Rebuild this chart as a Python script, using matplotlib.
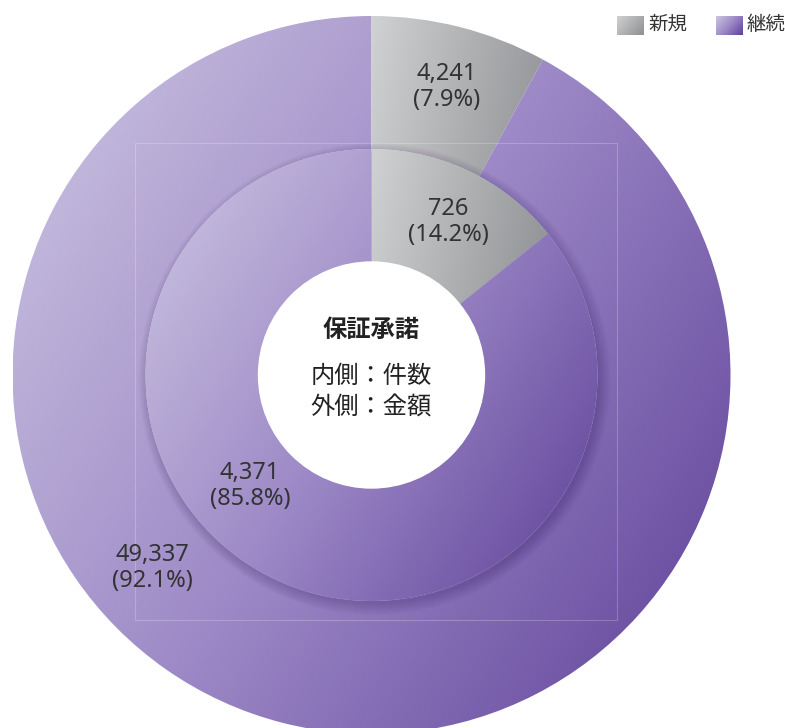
import numpy as np
import matplotlib.pyplot as plt
from matplotlib.colors import LinearSegmentedColormap
from matplotlib.patches import Circle, Rectangle

plt.rcParams['font.family'] = ['Noto Sans', 'Noto Sans CJK JP']

categories = ['新規', '継続']
inner_counts = [726, 4371]        # 件数
outer_amounts = [4241, 49337]     # 金額
inner_labels = ['726\n(14.2%)', '4,371\n(85.8%)']
outer_labels = ['4,241\n(7.9%)', '49,337\n(92.1%)']

W, H = 785, 728
cx, cy = 371.5, H - 375
r_out, r_in, r_hole = 359, 226, 113

purple = LinearSegmentedColormap.from_list('p', ['#cdc6e2', '#9c88c6', '#5e4098'])
gray = LinearSegmentedColormap.from_list('g', ['#d0d1d2', '#8e8f92'])

fig = plt.figure(figsize=(W / 100, H / 100), dpi=100)
ax = fig.add_axes([0, 0, 1, 1])


def grad_fill(patch, cmap, extent, diag=True):
    n = 256
    xx, yy = np.meshgrid(np.linspace(0, 1, n), np.linspace(0, 1, n))
    t = 0.62 * xx + 0.38 * yy if diag else xx * 0.85 + yy * 0.15
    im = ax.imshow(t, cmap=cmap, extent=extent, origin='upper',
                   interpolation='bilinear', zorder=patch.get_zorder(), vmin=0, vmax=1)
    im.set_clip_path(patch)


# outer ring: amounts
w_out, _ = ax.pie(outer_amounts, radius=r_out, center=(cx, cy), startangle=90,
                  counterclock=False, wedgeprops=dict(width=r_out - r_in, linewidth=0))
for w, cm in zip(w_out, [gray, purple]):
    w.set_facecolor('none')
    w.set_zorder(1)
    if cm is purple:
        grad_fill(w, cm, [cx - r_out, cx + r_out, cy - r_out, cy + r_out])
    else:
        grad_fill(w, cm, [cx, cx + r_out * 0.5, cy + r_in * 0.8, cy + r_out], diag=False)

# faint frame line
ax.add_patch(Rectangle((135, H - 620), 617 - 135, 620 - 143, fill=False,
                       edgecolor='white', alpha=0.22, linewidth=0.8, zorder=2))

# soft shadow under the inner ring
for k in range(12):
    ax.add_patch(Circle((cx + 3, cy - 4), r_in + 10 - k, color='#3a2466',
                        alpha=0.025, linewidth=0, zorder=3))

# inner ring: counts
w_in, _ = ax.pie(inner_counts, radius=r_in, center=(cx, cy), startangle=90,
                 counterclock=False, wedgeprops=dict(width=r_in - r_hole, linewidth=0))
for w, cm in zip(w_in, [gray, purple]):
    w.set_facecolor('none')
    w.set_zorder(4)
    if cm is purple:
        grad_fill(w, cm, [cx - r_in, cx + r_in, cy - r_in, cy + r_in])
    else:
        grad_fill(w, cm, [cx, cx + r_in * 0.8, cy + r_hole * 0.6, cy + r_in], diag=False)

ax.add_patch(Circle((cx, cy), r_hole, color='white', zorder=5))

# value labels
txt = dict(ha='center', va='center', fontsize=17, color='#333333',
           linespacing=1.1, zorder=6)
ax.text(447, H - 87, outer_labels[0], **txt)
ax.text(152, H - 568, outer_labels[1], **txt)
ax.text(448, H - 222, inner_labels[0], **txt)
ax.text(250, H - 486, inner_labels[1], **txt)

# centre text
ax.text(cx, H - 331, '保証承諾', ha='center', va='center', fontsize=17.5,
        fontweight='bold', color='#222222', zorder=6)
ax.text(cx, H - 377, '内側：件数', ha='center', va='center', fontsize=17.5,
        color='#222222', zorder=6)
ax.text(cx, H - 409, '外側：金額', ha='center', va='center', fontsize=17.5,
        color='#222222', zorder=6)

# legend
for (x0, cm, lab) in [(617, gray, categories[0]), (716, purple, categories[1])]:
    sq = Rectangle((x0, H - 35), 27, 19, facecolor='none', linewidth=0, zorder=6)
    ax.add_patch(sq)
    grad_fill(sq, cm, [x0, x0 + 27, H - 35, H - 16])
    ax.text(x0 + 31, H - 25, lab, ha='left', va='center', fontsize=14,
            color='#333333', zorder=6)

ax.set_xlim(0, W)
ax.set_ylim(0, H)
ax.set_aspect('equal')
ax.axis('off')

fig.savefig('out.png', dpi=100)
